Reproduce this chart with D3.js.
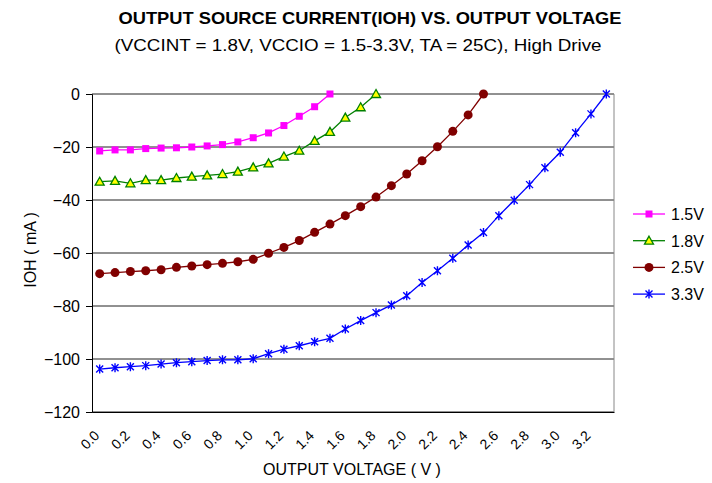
<!DOCTYPE html>
<html>
<head>
<meta charset="utf-8">
<script src="https://cdn.jsdelivr.net/npm/d3@7"></script>
<style>
  body { margin: 0; background: #fff; }
  text { font-family: "Liberation Sans", Arial, sans-serif; }
</style>
</head>
<body>
<div id="chart"></div>
<script>
// voltage categories 0.0 .. 3.3 (step 0.1)
var voltages = ["0.0","0.1","0.2","0.3","0.4","0.5","0.6","0.7","0.8","0.9","1.0","1.1","1.2","1.3","1.4","1.5","1.6",
                "1.7","1.8","1.9","2.0","2.1","2.2","2.3","2.4","2.5","2.6","2.7","2.8","2.9","3.0","3.1","3.2","3.3"];
var xTickLabels = ["0.0","0.2","0.4","0.6","0.8","1.0","1.2","1.4","1.6","1.8","2.0","2.2","2.4","2.6","2.8","3.0","3.2"];
var yTicks = [0, -20, -40, -60, -80, -100, -120];

var ioh15 = [-21.5,-21.1,-21.1,-20.6,-20.4,-20.3,-20.0,-19.6,-19.1,-18.1,-16.5,-14.7,-11.9,-8.4,-4.8,0];
var ioh18 = [-33.1,-32.8,-33.7,-32.5,-32.5,-31.7,-31.2,-30.7,-30.2,-29.3,-27.7,-26.2,-23.6,-21.4,-17.7,-14.3,-8.9,-5.0,0];
var ioh25 = [-67.8,-67.4,-67.0,-66.7,-66.3,-65.4,-64.9,-64.4,-63.9,-63.3,-62.4,-60.1,-57.9,-55.3,-52.2,-49.1,-45.9,-42.5,-38.9,-34.6,-30.2,-25.2,-19.9,-14.1,-7.9,0];
var ioh33 = [-103.8,-103.3,-102.9,-102.5,-101.9,-101.4,-101.0,-100.6,-100.3,-100.3,-99.9,-98.0,-96.3,-95.0,-93.5,-92.2,-88.7,-85.5,-82.5,-79.6,-76.1,
             -71.1,-66.7,-62.0,-57.0,-52.3,-45.9,-40.1,-34.2,-27.8,-22.0,-14.6,-7.5,0];

var seriesNames = ["1.5V", "1.8V", "2.5V", "3.3V"];
var seriesValues = [ioh15, ioh18, ioh25, ioh33];
var lineColors = ["#ff00ff", "#008000", "#800000", "#0000ff"];
var markerTypes = ["square", "triangle", "circle", "star"];

var W = 712, H = 483;
var plot = {left: 92, right: 614, top: 94, bottom: 412};

var svg = d3.select("#chart").append("svg")
    .attr("width", W)
    .attr("height", H);

var xScale = d3.scaleBand()
    .domain(voltages)
    .range([plot.left, plot.right]);
var xc = v => xScale(v) + xScale.bandwidth() / 2;

var yScale = d3.scaleLinear()
    .domain([-120, 0])
    .range([plot.bottom, plot.top]);

// titles
svg.append("text")
    .attr("x", 370).attr("y", 24)
    .attr("text-anchor", "middle")
    .attr("font-size", 17).attr("font-weight", "bold")
    .attr("textLength", 503).attr("lengthAdjust", "spacingAndGlyphs")
    .text("OUTPUT SOURCE CURRENT(IOH) VS. OUTPUT  VOLTAGE");
svg.append("text")
    .attr("x", 358).attr("y", 51)
    .attr("text-anchor", "middle")
    .attr("font-size", 17)
    .attr("textLength", 487).attr("lengthAdjust", "spacingAndGlyphs")
    .text("(VCCINT = 1.8V, VCCIO = 1.5-3.3V, TA = 25C), High Drive");

// grid lines
svg.append("g")
    .selectAll("line")
    .data(yTicks)
    .enter().append("line")
    .attr("x1", plot.left).attr("x2", plot.right)
    .attr("y1", d => yScale(d)).attr("y2", d => yScale(d))
    .attr("stroke", "#222").attr("stroke-width", 1);

// plot frame right side
svg.append("line")
    .attr("x1", plot.right).attr("x2", plot.right)
    .attr("y1", plot.top).attr("y2", plot.bottom)
    .attr("stroke", "#888");

// y axis
var yAxis = svg.append("g")
    .attr("transform", `translate(${plot.left},0)`)
    .call(d3.axisLeft(yScale).tickValues(yTicks).tickSize(6).tickPadding(6).tickFormat(d3.format("d")));
yAxis.select(".domain").attr("stroke", "#000");
yAxis.selectAll("text").attr("font-size", 16).attr("font-family", "Liberation Sans, Arial, sans-serif").attr("fill", "#000");

// x axis (labels only, rotated)
var xAxis = svg.append("g")
    .attr("transform", `translate(0,${plot.bottom})`)
    .call(d3.axisBottom(xScale).tickValues(xTickLabels).tickSize(0).tickPadding(0));
xAxis.select(".domain").attr("stroke", "#000");
xAxis.selectAll("text")
    .attr("font-size", 14)
    .attr("font-family", "Liberation Sans, Arial, sans-serif")
    .attr("fill", "#000")
    .attr("text-anchor", "end")
    .attr("dy", "0.35em")
    .attr("transform", "translate(-3,21) rotate(-45)");

// axis titles
svg.append("text")
    .attr("x", 352).attr("y", 475)
    .attr("text-anchor", "middle")
    .attr("font-size", 16)
    .text("OUTPUT VOLTAGE ( V )");
svg.append("text")
    .attr("transform", "translate(36,250) rotate(-90)")
    .attr("text-anchor", "middle")
    .attr("font-size", 16)
    .text("IOH ( mA )");

function drawMarker(g, type, color) {
    if (type === "square") {
        g.append("rect").attr("x", -3.5).attr("y", -3.5).attr("width", 7).attr("height", 7)
            .attr("fill", color);
    } else if (type === "triangle") {
        g.append("path").attr("d", "M0,-4.5L4.5,3.5L-4.5,3.5Z")
            .attr("fill", "#ffff00").attr("stroke", color).attr("stroke-width", 1.3);
    } else if (type === "circle") {
        g.append("circle").attr("r", 4.5).attr("fill", color);
    } else {
        g.append("path").attr("d", "M-3.5,-3.5L3.5,3.5M-3.5,3.5L3.5,-3.5M0,-4.5L0,4.5")
            .attr("stroke", color).attr("stroke-width", 1.4).attr("fill", "none");
    }
}

var line = d3.line()
    .x((d, i) => xc(voltages[i]))
    .y(d => yScale(d));

seriesValues.forEach(function(vals, s) {
    svg.append("path")
        .datum(vals)
        .attr("d", line)
        .attr("fill", "none")
        .attr("stroke", lineColors[s])
        .attr("stroke-width", 1.3);
    svg.append("g").selectAll("g")
        .data(vals)
        .enter().append("g")
        .attr("transform", (d, i) => `translate(${xc(voltages[i])},${yScale(d)})`)
        .each(function() { drawMarker(d3.select(this), markerTypes[s], lineColors[s]); });
});

// legend
var legend = svg.append("g").attr("transform", "translate(633,214)");
seriesNames.forEach(function(name, s) {
    var row = legend.append("g").attr("transform", `translate(0,${s * 26.7})`);
    row.append("line").attr("x1", 0).attr("x2", 32).attr("y1", 0).attr("y2", 0)
        .attr("stroke", lineColors[s]).attr("stroke-width", 1.3);
    drawMarker(row.append("g").attr("transform", "translate(16,0)"), markerTypes[s], lineColors[s]);
    row.append("text").attr("x", 38).attr("y", 6).attr("font-size", 16).text(name);
});
</script>
</body>
</html>
